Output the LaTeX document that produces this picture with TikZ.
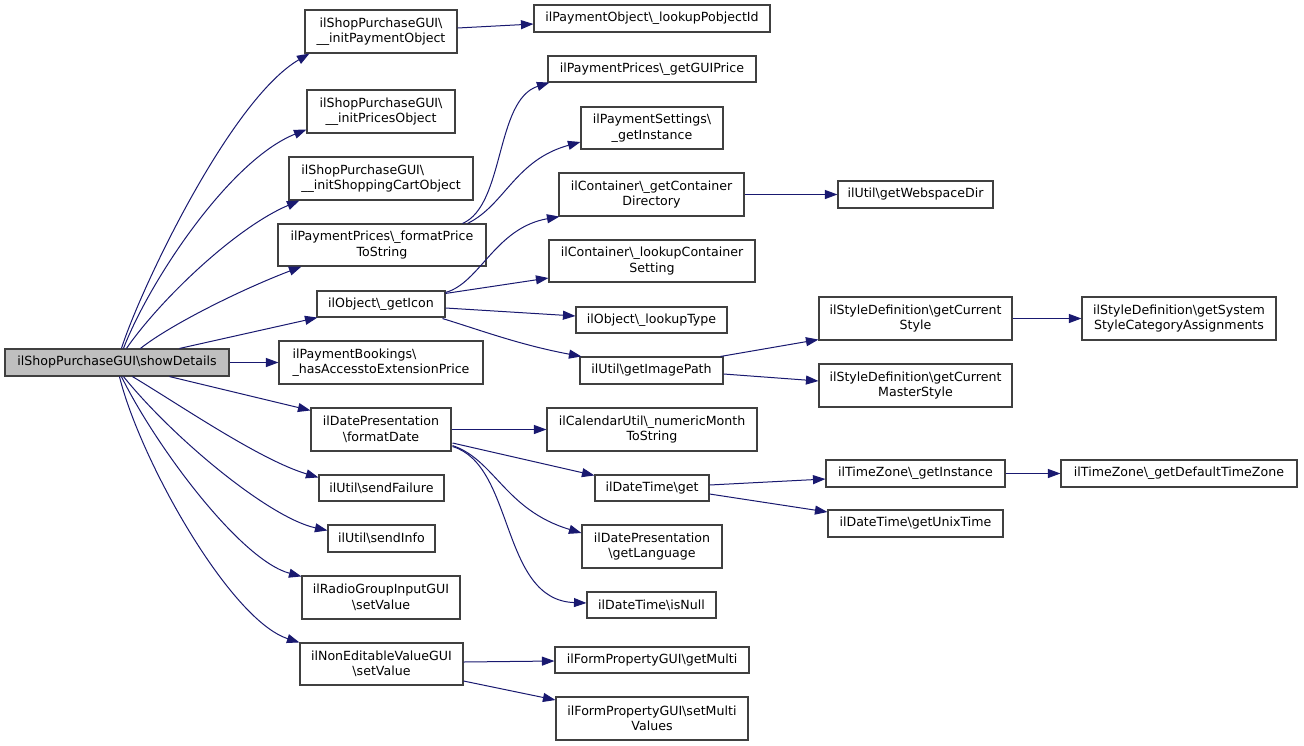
\documentclass[tikz,border=0pt]{standalone}
\usepackage{fontspec}
\setmainfont{DejaVu Sans}
\usetikzlibrary{arrows.meta,calc}
\definecolor{navy}{HTML}{191970}
\definecolor{boxgray}{HTML}{404040}
\definecolor{mainfill}{HTML}{BFBFBF}
\newcommand{\bs}{\textbackslash}
\begin{document}
\begin{tikzpicture}[x=1pt,y=-1pt,
  box/.style={draw=boxgray, line width=1.1pt, inner sep=0pt, fill=white,
    font=\fontsize{12.6}{15.5}\selectfont, align=center},
  lbox/.style={box, align=left},
  edge/.style={draw=navy, line width=1pt, -{Triangle[length=12.5pt,width=9pt,fill=navy]}}]
\fill[white] (0,0) rectangle (1304,745);
\useasboundingbox (0,0) rectangle (1304,745);
% level 0
\node[box, fill=mainfill, minimum width=224pt, minimum height=27pt] (main) at (117,362.5) {ilShopPurchaseGUI\bs showDetails};
% level 1
\node[box, minimum width=152pt, minimum height=43pt] (ipo) at (381,31.5) {ilShopPurchaseGUI\bs\\\_\_initPaymentObject};
\node[box, minimum width=148pt, minimum height=43pt] (ipr) at (381,111.5) {ilShopPurchaseGUI\bs\\\_\_initPricesObject};
\node[lbox, minimum width=184pt, minimum height=43pt] (isc) at (381,178.5) {ilShopPurchaseGUI\bs\\\_\_initShoppingCartObject};
\node[box, minimum width=208pt, minimum height=42pt] (fps) at (382,245) {ilPaymentPrices\bs\_formatPrice\\ToString};
\node[box, minimum width=128pt, minimum height=26pt] (gic) at (381,304) {ilObject\bs\_getIcon};
\node[lbox, minimum width=204pt, minimum height=43pt] (hae) at (381,362.5) {ilPaymentBookings\bs\\\_hasAccesstoExtensionPrice};
\node[box, minimum width=140pt, minimum height=43pt] (fmd) at (381,429.5) {ilDatePresentation\\\bs formatDate};
\node[box, minimum width=125pt, minimum height=26pt] (sfl) at (381.5,488) {ilUtil\bs sendFailure};
\node[box, minimum width=107pt, minimum height=27pt] (sin) at (381.5,538.5) {ilUtil\bs sendInfo};
\node[box, minimum width=158pt, minimum height=43pt] (rgs) at (381,597.5) {ilRadioGroupInputGUI\\\bs setValue};
\node[box, minimum width=163pt, minimum height=42pt] (nes) at (381.5,664) {ilNonEditableValueGUI\\\bs setValue};
% level 2
\node[box, minimum width=236pt, minimum height=27pt] (lpo) at (652,18.5) {ilPaymentObject\bs\_lookupPobjectId};
\node[box, minimum width=208pt, minimum height=26pt] (ggp) at (652,69) {ilPaymentPrices\bs\_getGUIPrice};
\node[box, minimum width=142pt, minimum height=42pt] (psi) at (652,128) {ilPaymentSettings\bs\\\_getInstance};
\node[box, minimum width=185pt, minimum height=43pt] (gcd) at (651.5,194.5) {ilContainer\bs\_getContainer\\Directory};
\node[box, minimum width=206pt, minimum height=42pt] (lcs) at (652,261) {ilContainer\bs\_lookupContainer\\Setting};
\node[box, minimum width=151pt, minimum height=26pt] (lty) at (651.5,320) {ilObject\bs\_lookupType};
\node[box, minimum width=143pt, minimum height=27pt] (gip) at (651.5,370.5) {ilUtil\bs getImagePath};
\node[box, minimum width=210pt, minimum height=43pt] (nms) at (652,429.5) {ilCalendarUtil\bs\_numericMonth\\ToString};
\node[box, minimum width=114pt, minimum height=26pt] (dtg) at (652,488) {ilDateTime\bs get};
\node[box, minimum width=140pt, minimum height=43pt] (gla) at (652,546.5) {ilDatePresentation\\\bs getLanguage};
\node[box, minimum width=129pt, minimum height=26pt] (inu) at (651.5,605) {ilDateTime\bs isNull};
\node[box, minimum width=194pt, minimum height=26pt] (gmu) at (652,660) {ilFormPropertyGUI\bs getMulti};
\node[box, minimum width=192pt, minimum height=43pt] (smv) at (652,718.5) {ilFormPropertyGUI\bs setMulti\\Values};
% level 3
\node[box, minimum width=155pt, minimum height=27pt] (gwd) at (915.5,194.5) {ilUtil\bs getWebspaceDir};
\node[box, minimum width=193pt, minimum height=43pt] (gcs) at (915.5,318.5) {ilStyleDefinition\bs getCurrent\\Style};
\node[box, minimum width=193pt, minimum height=43pt] (gms) at (915.5,385.5) {ilStyleDefinition\bs getCurrent\\MasterStyle};
\node[box, minimum width=179pt, minimum height=27pt] (tzi) at (915.5,473.5) {ilTimeZone\bs\_getInstance};
\node[box, minimum width=175pt, minimum height=27pt] (gut) at (915.5,523.5) {ilDateTime\bs getUnixTime};
% level 4
\node[box, minimum width=194pt, minimum height=43pt] (ssc) at (1179,318.5) {ilStyleDefinition\bs getSystem\\StyleCategoryAssignments};
\node[box, minimum width=236pt, minimum height=27pt] (dtz) at (1179,473.5) {ilTimeZone\bs\_getDefaultTimeZone};
% edges from main
\draw[edge] ($(main.north west)+(117,0)$) .. controls (140,290) and (230,100) .. ($(ipo.south west)+(5,0)$);
\draw[edge] ($(main.north west)+(119,0)$) .. controls (150,280) and (230,160) .. ($(ipr.south west)+(0,-4)$);
\draw[edge] ($(main.north west)+(122,0)$) .. controls (160,300) and (235,228) .. ($(isc.south west)+(11,0)$);
\draw[edge] ($(main.north west)+(136,0)$) .. controls (170,325) and (240,290) .. ($(fps.south west)+(24,0)$);
\draw[edge] ($(main.north west)+(175,0)$) -- ($(gic.south west)+(1,0)$);
\draw[edge] (main.east) -- (hae.west);
\draw[edge] ($(main.south west)+(165,0)$) -- ($(fmd.north west)+(0,3)$);
\draw[edge] ($(main.south west)+(128,0)$) .. controls (180,405) and (260,460) .. ($(sfl.north west)+(0,3)$);
\draw[edge] ($(main.south west)+(119,0)$) .. controls (175,440) and (270,518) .. ($(sin.north west)+(0,6)$);
\draw[edge] ($(main.south west)+(117,0)$) .. controls (155,445) and (240,560) .. ($(rgs.north west)+(0,1)$);
\draw[edge] ($(main.south west)+(115,0)$) .. controls (140,460) and (230,620) .. ($(nes.north west)+(0,0)$);
% level 1 -> 2
\draw[edge] ($(ipo.east)+(0,-3.5)$) -- ($(lpo.west)+(0,5.5)$);
\draw[edge] ($(fps.north east)+(-24,0)$) .. controls (505,205) and (495,100) .. ($(ggp.south west)+(2,0)$);
\draw[edge] ($(fps.north east)+(-19,0)$) .. controls (505,205) and (515,160) .. ($(psi.west)+(0,14)$);
\draw[edge] ($(gic.north east)+(0,2)$) .. controls (480,283) and (495,228) .. ($(gcd.south west)+(1,0)$);
\draw[edge] ($(gic.north east)+(0,3)$) -- ($(lcs.west)+(0,17)$);
\draw[edge] ($(gic.east)+(0,4)$) -- ($(lty.west)+(0,-4)$);
\draw[edge] ($(gic.south east)+(-3,1)$) .. controls (480,330) and (520,345) .. ($(gip.north west)+(2,0)$);
\draw[edge] (fmd.east) -- (nms.west);
\draw[edge] ($(fmd.east)+(1,13.5)$) -- ($(dtg.north west)+(0,1)$);
\draw[edge] ($(fmd.south east)+(1,-6)$) .. controls (495,460) and (505,510) .. ($(gla.west)+(0,-13.5)$);
\draw[edge] ($(fmd.south east)+(1,-5)$) .. controls (515,465) and (500,600) .. ($(inu.west)+(0,-2)$);
\draw[edge] ($(nes.east)+(0,-2)$) -- ($(gmu.west)+(0,1)$);
\draw[edge] ($(nes.east)+(0,17)$) -- ($(smv.west)+(0,-18.5)$);
% level 2 -> 3
\draw[edge] (gcd.east) -- (gwd.west);
\draw[edge] ($(gip.north east)+(-3,0)$) -- ($(gcs.south west)+(0,-1)$);
\draw[edge] ($(gip.east)+(0,3.5)$) -- ($(gms.west)+(0,-4.5)$);
\draw[edge] ($(dtg.east)+(0,-3)$) -- ($(tzi.west)+(0,5.5)$);
\draw[edge] ($(dtg.east)+(0,6)$) -- ($(gut.west)+(0,-11.5)$);
% level 3 -> 4
\draw[edge] (gcs.east) -- (ssc.west);
\draw[edge] (tzi.east) -- (dtz.west);
\end{tikzpicture}
\end{document}
